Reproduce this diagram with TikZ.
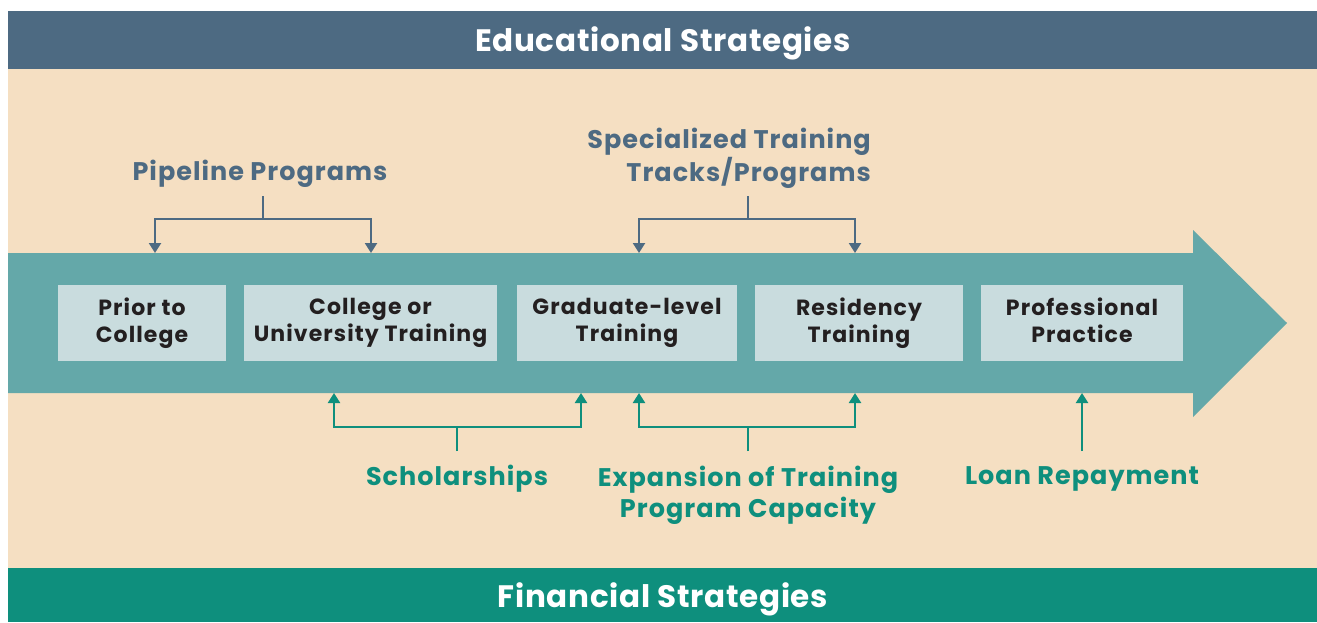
\documentclass[tikz,border=0pt]{standalone}
\usepackage{fontspec}
\setmainfont{Poppins}
\newfontfamily\bandfont[LetterSpace=2.2]{Poppins}
\newfontfamily\labelfont[LetterSpace=4]{Poppins}
\newfontfamily\stagefont[LetterSpace=5]{Poppins}
\usetikzlibrary{arrows.meta}

\definecolor{edublue}{HTML}{4D6A82}
\definecolor{finteal}{HTML}{0E8F7D}
\definecolor{panelbg}{HTML}{F5DFC2}
\definecolor{shaftcol}{HTML}{64A8A9}
\definecolor{stagefill}{HTML}{C9DCDE}
\definecolor{stagetext}{HTML}{231F20}

\tikzset{
  stagebox/.style={fill=stagefill,text=stagetext,font=\stagefont\bfseries\fontsize{22}{27}\selectfont,align=center,inner sep=0pt,minimum height=76pt,execute at end node={\vphantom{g}}},
  bandtext/.style={text=white,font=\bandfont\bfseries\fontsize{31}{36}\selectfont,anchor=base},
  edulabel/.style={text=edublue,font=\labelfont\bfseries\fontsize{25.5}{33}\selectfont,align=center,inner sep=0pt},
  finlabel/.style={text=finteal,font=\labelfont\bfseries\fontsize{25.5}{31}\selectfont,align=center,inner sep=0pt},
  eduline/.style={draw=edublue,line width=2.2pt},
  finline/.style={draw=finteal,line width=2.2pt},
  tip/.style={-{Triangle[width=12pt,length=10pt]}}
}

\begin{document}
\begin{tikzpicture}[x=1pt,y=-1pt]
  \useasboundingbox (0,0) rectangle (1317,622);
  % bands
  \fill[panelbg] (8,69) rectangle (1317,568);
  \fill[edublue] (8,11) rectangle (1317,69);
  \fill[finteal] (8,568) rectangle (1317,622);
  \node[bandtext] (edu) at (663,51) {Educational Strategies};
  \node[bandtext] (fin) at (663,607) {Financial Strategies};

  % big arrow
  \fill[shaftcol] (8,253) -- (1193,253) -- (1193,230) -- (1287,323)
    -- (1193,417) -- (1193,393) -- (8,393) -- cycle;

  % stages
  \node[stagebox,minimum width=168pt] (prior) at (142,323) {Prior to\\College};
  \node[stagebox,minimum width=253pt] (college) at (370.5,323) {College or\\University Training};
  \node[stagebox,minimum width=220pt] (grad) at (627,323) {Graduate-level\\Training};
  \node[stagebox,minimum width=208pt] (resid) at (859,323) {Residency\\Training};
  \node[stagebox,minimum width=202pt] (prof) at (1082,323) {Professional\\Practice};

  % educational strategies
  \node[edulabel] (pipe) at (260,174) {Pipeline Programs};
  \node[edulabel,align=right,anchor=east] (spec) at (871,158) {Specialized Training\\Tracks/Programs};

  \coordinate (pipetop) at (263,196);
  \coordinate (pipejoin) at (263,219);
  \coordinate (priorin) at (155,253);
  \coordinate (collegein) at (371,253);
  \draw[eduline] (pipetop) -- (pipejoin);
  \draw[eduline,tip] (pipejoin) -| (priorin);
  \draw[eduline,tip] (pipejoin) -| (collegein);

  \coordinate (spectop) at (748,196);
  \coordinate (specjoin) at (748,219);
  \coordinate (gradin) at (639,253);
  \coordinate (residin) at (855,253);
  \draw[eduline] (spectop) -- (specjoin);
  \draw[eduline,tip] (specjoin) -| (gradin);
  \draw[eduline,tip] (specjoin) -| (residin);

  % financial strategies
  \node[finlabel] (schol) at (457,479) {Scholarships};
  \node[finlabel] (expand) at (748,495) {Expansion of Training\\Program Capacity};
  \node[finlabel] (loan) at (1082,479) {Loan Repayment};

  \coordinate (scholtop) at (457,451);
  \coordinate (scholjoin) at (457,427);
  \coordinate (collegeout) at (334,393);
  \coordinate (gradout) at (581,393);
  \draw[finline] (scholtop) -- (scholjoin);
  \draw[finline,tip] (scholjoin) -| (collegeout);
  \draw[finline,tip] (scholjoin) -| (gradout);

  \coordinate (expandtop) at (748,451);
  \coordinate (expandjoin) at (748,427);
  \coordinate (gradfin) at (639,393);
  \coordinate (residfin) at (855,393);
  \draw[finline] (expandtop) -- (expandjoin);
  \draw[finline,tip] (expandjoin) -| (gradfin);
  \draw[finline,tip] (expandjoin) -| (residfin);

  \coordinate (loantop) at (1082,451);
  \coordinate (profout) at (1082,393);
  \draw[finline,tip] (loantop) -- (profout);
\end{tikzpicture}
\end{document}
